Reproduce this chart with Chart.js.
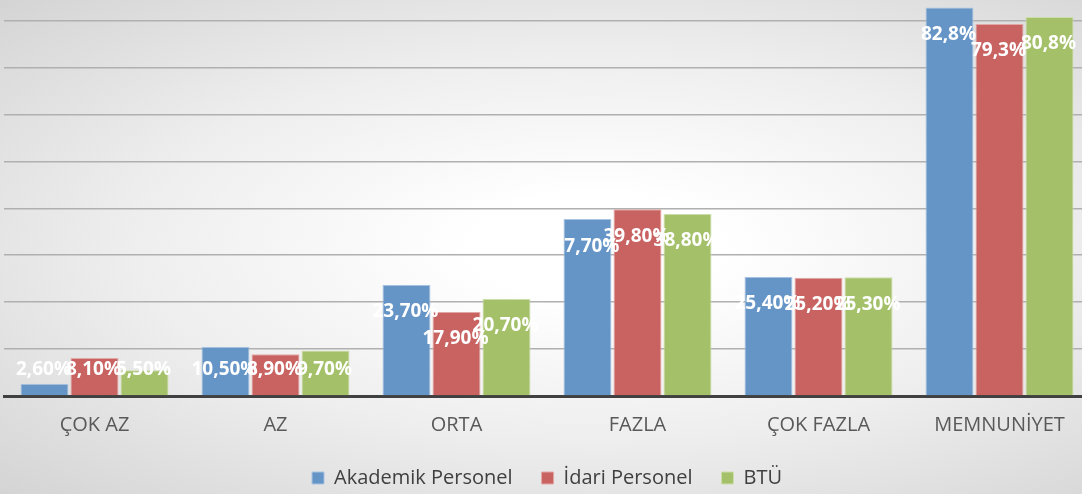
<!DOCTYPE html>
<html>
<head>
<meta charset="utf-8">
<script src="https://cdn.jsdelivr.net/npm/chart.js@4"></script>
<style>
	html, body { margin: 0; padding: 0; }
	#frame {
		width: 1082px;
		height: 494px;
		overflow: hidden;
		background: radial-gradient(ellipse farthest-corner at 55% 50%, #ffffff 15%, #eeeeee 55%, #d4d4d4 100%);
	}
	#wrap { width: 1090px; height: 494px; }
</style>
</head>
<body>
<div id="frame"><div id="wrap"><canvas id="barChart"></canvas></div></div>
<script>
// 카테고리 / 시리즈 데이터
const categories = ['ÇOK AZ', 'AZ', 'ORTA', 'FAZLA', 'ÇOK FAZLA', 'MEMNUNİYET'];
const akademik = [2.6, 10.5, 23.7, 37.7, 25.4, 82.8];
const idari = [8.1, 8.9, 17.9, 39.8, 25.2, 79.3];
const btu = [5.5, 9.7, 20.7, 38.8, 25.3, 80.8];
const labelDecimals = [2, 2, 2, 2, 2, 1];
const gridTicks = [0, 10, 20, 30, 40, 50, 60, 70, 80];

// 막대 위 흰색 값 라벨 (inside end)
const valueLabels = {
	id: 'valueLabels',
	afterDatasetsDraw(chart) {
		const ctx = chart.ctx;
		const base = chart.scales.y.getPixelForValue(0);
		ctx.save();
		ctx.font = 'bold 19px "Open Sans"';
		ctx.fillStyle = '#ffffff';
		ctx.textAlign = 'center';
		ctx.textBaseline = 'middle';
		chart.data.datasets.forEach(function(ds, di) {
			chart.getDatasetMeta(di).data.forEach(function(bar, i) {
				const txt = ds.data[i].toFixed(labelDecimals[i]).replace('.', ',') + '%';
				const y = Math.min(bar.y + 27, base - 26);
				ctx.fillText(txt, bar.x - 1, y);
			});
		});
		ctx.restore();
	}
};

// 범례 높이 고정 (아이템 간격은 유지)
const legendFit = {
	id: 'legendFit',
	beforeInit(chart) {
		const origFit = chart.legend.fit;
		chart.legend.fit = function() {
			origFit.call(this);
			this.height = 55;
		};
	}
};

document.addEventListener('DOMContentLoaded', function() {
	initBarChart();
});

function initBarChart() {
	const ctx = document.getElementById('barChart').getContext('2d');
	new Chart(ctx, {
		type: 'bar',
		data: {
			labels: categories,
			datasets: [{
				label: 'Akademik Personel',
				data: akademik,
				backgroundColor: 'rgb(101,148,198)',
				borderColor: 'rgba(170,196,226,1)',
				borderWidth: 1
			}, {
				label: 'İdari Personel',
				data: idari,
				backgroundColor: 'rgb(200,99,97)',
				borderColor: 'rgba(226,168,166,1)',
				borderWidth: 1
			}, {
				label: 'BTÜ',
				data: btu,
				backgroundColor: 'rgb(164,193,106)',
				borderColor: 'rgba(204,222,170,1)',
				borderWidth: 1
			}]
		},
		options: {
			responsive: true,
			maintainAspectRatio: false,
			animation: false,
			categoryPercentage: 0.829,
			barPercentage: 0.96,
			layout: {
				padding: { left: 4, right: 0, top: 0, bottom: 0 }
			},
			scales: {
				x: {
					grid: { display: false, drawTicks: false },
					border: { color: '#404040', width: 3 },
					ticks: {
						color: '#595959',
						font: { family: 'Open Sans', size: 20 },
						padding: 17
					},
					afterFit: function(scale) { scale.height = 43; }
				},
				y: {
					min: 0,
					max: 84.4,
					afterBuildTicks: function(scale) {
						scale.ticks = gridTicks.map(function(v) { return { value: v }; });
					},
					afterFit: function(scale) { scale.width = 0; },
					ticks: { display: false },
					border: { display: false },
					grid: {
						color: '#b0b0b0',
						lineWidth: 1.5,
						drawTicks: false
					}
				}
			},
			plugins: {
				legend: {
					position: 'bottom',
					labels: {
						color: '#404040',
						font: { family: 'Open Sans', size: 20 },
						boxWidth: 12,
						boxHeight: 12,
						padding: 29
					}
				},
				tooltip: { enabled: false }
			}
		},
		plugins: [valueLabels, legendFit]
	});
}
</script>
</body>
</html>
